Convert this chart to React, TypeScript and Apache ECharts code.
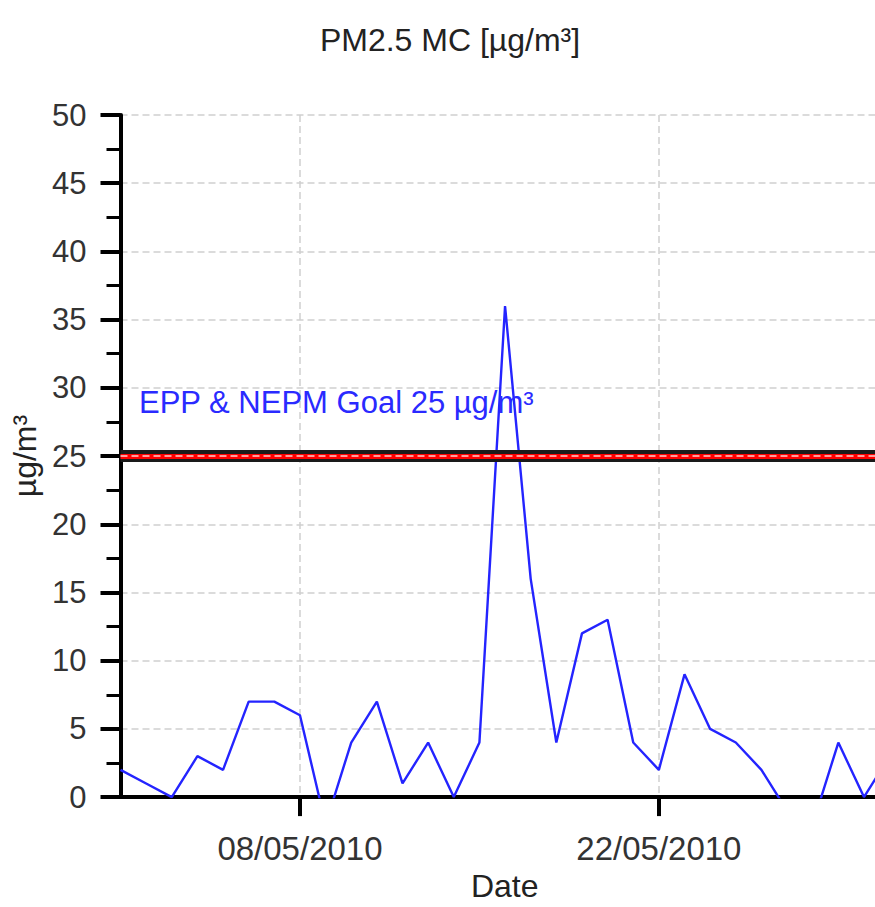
import React, { useEffect, useRef } from "react";
import * as echarts from "echarts";

const dates: string[] = [
  "01/05/2010", "02/05/2010", "03/05/2010", "04/05/2010", "05/05/2010", "06/05/2010",
  "07/05/2010", "08/05/2010", "09/05/2010", "10/05/2010", "11/05/2010", "12/05/2010",
  "13/05/2010", "14/05/2010", "15/05/2010", "16/05/2010", "17/05/2010", "18/05/2010",
  "19/05/2010", "20/05/2010", "21/05/2010", "22/05/2010", "23/05/2010", "24/05/2010",
  "25/05/2010", "26/05/2010", "27/05/2010", "28/05/2010", "29/05/2010", "30/05/2010",
  "31/05/2010",
];
const pm25: number[] = [
  2, 1, 0, 3, 2, 7, 7, 6, -2, 4, 7, 1, 4, 0, 4, 36, 16, 4, 12, 13, 4, 2, 9, 5, 4, 2, -1, -2, 4, 0, 3,
];
const xTickLabels: string[] = ["08/05/2010", "22/05/2010"];
const goalValue = 25;
const goalLabel = "EPP & NEPM Goal 25 µg/m³";
const yMin = 0;
const yMax = 50;
const yInterval = 5;
const xStart = "01/05/2010";
const xEndDays = 29.43;

const DAY = 86400000;
const parseDate = (s: string) => {
  const [d, m, y] = s.split("/").map(Number);
  return Date.UTC(y, m - 1, d);
};
const fmt = (v: number) => {
  const d = new Date(v);
  const p = (n: number) => (n < 10 ? "0" + n : "" + n);
  return `${p(d.getUTCDate())}/${p(d.getUTCMonth() + 1)}/${d.getUTCFullYear()}`;
};

const FONT = "'Liberation Sans', Arial, sans-serif";

export default function App() {
  const ref = useRef<HTMLDivElement>(null);
  useEffect(() => {
    if (!ref.current) return;
    const chart = echarts.init(ref.current, null, { renderer: "svg" });
    const xMin = parseDate(xStart);
    const xMax = xMin + xEndDays * DAY;
    const tickVals = xTickLabels.map(parseDate);
    chart.setOption({
      animation: false,
      backgroundColor: "#ffffff",
      textStyle: { fontFamily: FONT },
      title: {
        text: "PM2.5 MC [µg/m³]",
        left: 445,
        top: 19,
        textAlign: "center",
        textStyle: { fontFamily: FONT, fontSize: 32, fontWeight: "normal", color: "#222" },
      },
      grid: { left: 120.5, right: 0, top: 115, bottom: 108, containLabel: false },
      xAxis: {
        type: "value",
        min: xMin,
        max: xMax,
        name: "Date",
        nameLocation: "middle",
        nameGap: 69,
        nameTextStyle: { fontFamily: FONT, fontSize: 32, color: "#222", padding: [0, 0, 0, 14] },
        axisLine: { show: true, lineStyle: { color: "#000", width: 4 } },
        axisTick: { show: true, length: 19, customValues: tickVals, lineStyle: { color: "#000", width: 4 } },
        axisLabel: {
          show: true,
          customValues: tickVals,
          margin: 35,
          fontFamily: FONT,
          fontSize: 33,
          color: "#333",
          formatter: (v: number) => fmt(v),
        },
        splitLine: { show: true, lineStyle: { color: "#cfcfcf", width: 1.5, type: [7, 4] } },
      },
      yAxis: {
        type: "value",
        min: yMin,
        max: yMax,
        interval: yInterval,
        name: "µg/m³",
        nameLocation: "middle",
        nameGap: 76,
        nameRotate: 90,
        nameTextStyle: { fontFamily: FONT, fontSize: 32, color: "#222" },
        axisLine: { show: true, lineStyle: { color: "#000", width: 4 } },
        axisTick: { show: true, length: 20, lineStyle: { color: "#000", width: 4 } },
        minorTick: { show: true, splitNumber: 2, length: 14, lineStyle: { color: "#000", width: 3 } },
        axisLabel: { margin: 34, fontFamily: FONT, fontSize: 31, color: "#333" },
        splitLine: { show: true, lineStyle: { color: "#cfcfcf", width: 1.5, type: [7, 4] } },
      },
      graphic: [
        {
          type: "text",
          left: 139,
          top: 387,
          z: 10,
          style: { text: goalLabel, fill: "#2a2aff", font: `31px ${FONT}` },
        },
      ],
      series: [
        {
          type: "line",
          data: dates.map((d, i) => [parseDate(d), pm25[i]]),
          showSymbol: false,
          clip: true,
          lineStyle: { color: "#2424ff", width: 2.4 },
          z: 3,
          markLine: {
            silent: true,
            symbol: ["none", "none"],
            label: { show: false },
            data: [
              { yAxis: goalValue, lineStyle: { color: "#1a1a1a", width: 12, type: "solid" } },
              { yAxis: goalValue, lineStyle: { color: "#ff0000", width: 5, type: "solid" } },
              { yAxis: goalValue, lineStyle: { color: "#ffd0d0", width: 1.5, type: [7, 4] } },
            ],
          },
        },
      ],
    });
    return () => chart.dispose();
  }, []);
  return (
    <div
      ref={ref}
      style={{ position: "fixed", left: 0, top: 0, width: 875, height: 907, background: "#fff" }}
    />
  );
}
